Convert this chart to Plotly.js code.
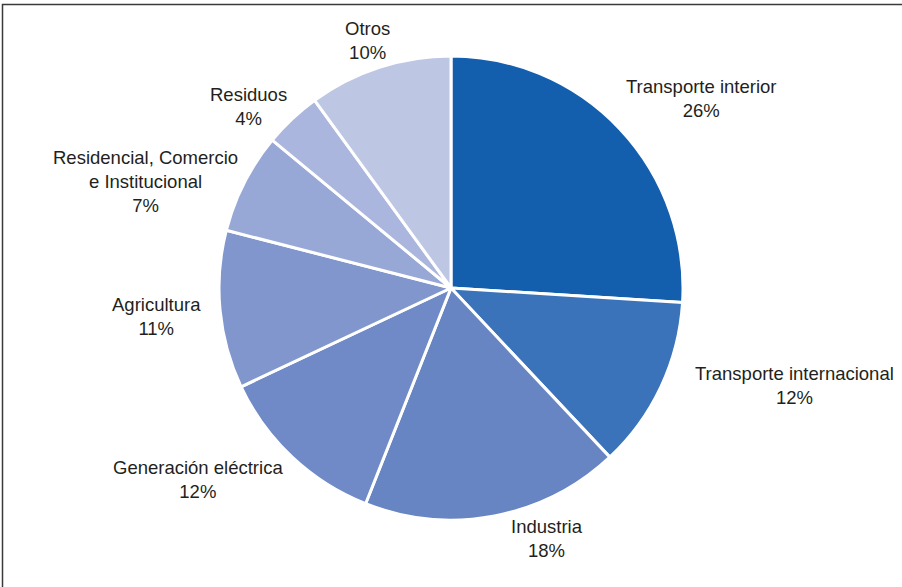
<!DOCTYPE html>
<html>
<head>
<meta charset="utf-8">
<script src="https://cdn.plot.ly/plotly-3.0.1.min.js"></script>
<style>html,body{margin:0;padding:0;background:#fff;}#chart{width:902px;height:587px;}</style>
</head>
<body>
<div id="chart"></div>
<script>
// Data
const categories = ["Transporte interior", "Transporte internacional", "Industria", "Generación eléctrica", "Agricultura", "Residencial, Comercio<br>e Institucional", "Residuos", "Otros"];
const values = [26, 12, 18, 12, 11, 7, 4, 10];
const colors = ["#135fad", "#3a73b9", "#6784c3", "#6f8ac6", "#8196cd", "#98a8d6", "#aab6dd", "#bdc7e4"];

// Label positions (pixel centers) – layout only
const labelPos = [[701, 98], [794, 385], [547, 538], [198, 479], [156, 316], [145, 181], [248, 106], [367, 40]];

const W = 902, H = 587;
const cx = 451, cy = 288, r = 232;

const annotations = categories.map((c, i) => ({
  text: c + "<br>" + values[i] + "%",
  x: labelPos[i][0] / W,
  y: 1 - labelPos[i][1] / H,
  xref: "paper", yref: "paper",
  xanchor: "center", yanchor: "middle",
  showarrow: false,
  align: "center",
  font: {family: "Liberation Sans, Arial, sans-serif", size: 18.5, color: "#231f20"}
}));

const trace = {
  type: "pie",
  labels: categories,
  values: values,
  sort: false,
  direction: "clockwise",
  rotation: 0,
  textinfo: "none",
  hoverinfo: "label+percent",
  marker: {colors: colors, line: {color: "#ffffff", width: 3}},
  domain: {x: [(cx - r) / W, (cx + r) / W], y: [1 - (cy + r) / H, 1 - (cy - r) / H]},
  showlegend: false
};

const layout = {
  width: W, height: H,
  margin: {l: 0, r: 0, t: 0, b: 0},
  paper_bgcolor: "#ffffff",
  showlegend: false,
  annotations: annotations,
  shapes: [{
    type: "rect", xref: "paper", yref: "paper",
    x0: 2.5 / W, x1: 1.05, y0: -0.05, y1: 1 - 4.5 / H,
    line: {color: "#3a3a3a", width: 1.5}, fillcolor: "rgba(0,0,0,0)"
  }]
};

Plotly.newPlot("chart", [trace], layout, {staticPlot: true, displayModeBar: false});
</script>
</body>
</html>
